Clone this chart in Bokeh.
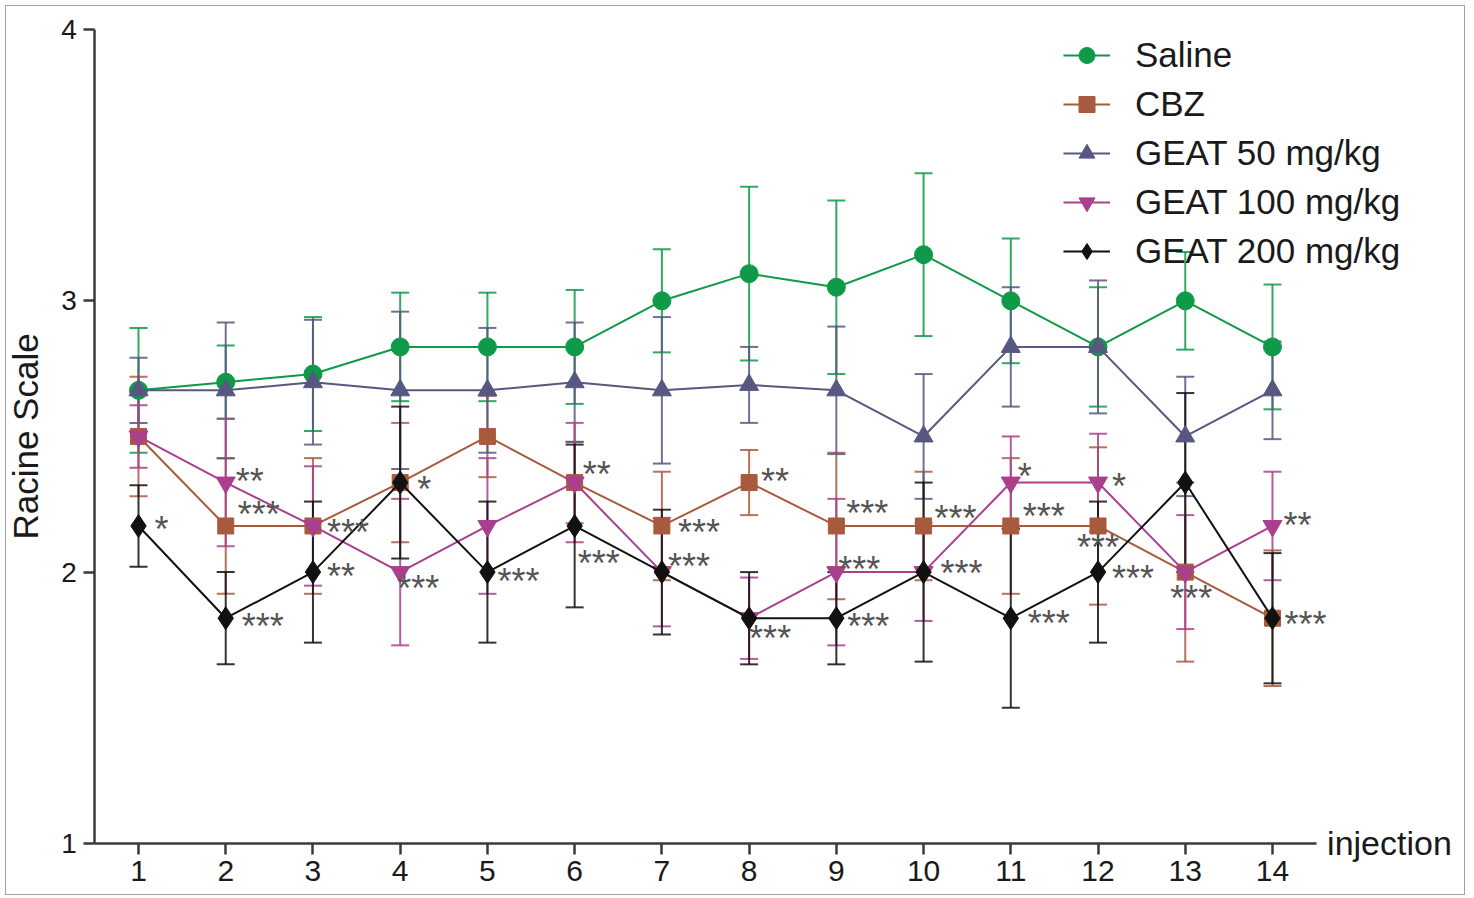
import math
from bokeh.plotting import figure
from bokeh.models import ColumnDataSource, Whisker, TeeHead, Legend, LegendItem, Label, FixedTicker
from bokeh.embed import file_html
from bokeh.resources import INLINE
from bokeh.core.properties import value

# ---------------- data ----------------
injection = [1, 2, 3, 4, 5, 6, 7, 8, 9, 10, 11, 12, 13, 14]

saline = [2.67, 2.70, 2.73, 2.83, 2.83, 2.83, 3.00, 3.10, 3.05, 3.17, 3.00, 2.83, 3.00, 2.83]
saline_sem = [0.23, 0.135, 0.21, 0.20, 0.20, 0.21, 0.19, 0.32, 0.32, 0.30, 0.23, 0.22, 0.18, 0.23]

cbz = [2.50, 2.17, 2.17, 2.33, 2.50, 2.33, 2.17, 2.33, 2.17, 2.17, 2.17, 2.17, 2.00, 1.83]
cbz_sem = [0.22, 0.25, 0.25, 0.22, 0.15, 0.15, 0.20, 0.12, 0.27, 0.20, 0.25, 0.29, 0.33, 0.25]

geat50 = [2.67, 2.67, 2.70, 2.67, 2.67, 2.70, 2.67, 2.69, 2.67, 2.50, 2.83, 2.83, 2.50, 2.67]
geat50_sem = [0.12, 0.25, 0.23, 0.29, 0.23, 0.22, 0.27, 0.14, 0.235, 0.23, 0.22, 0.245, 0.22, 0.18]

geat100 = [2.50, 2.33, 2.17, 2.00, 2.17, 2.33, 2.00, 1.83, 2.00, 2.00, 2.33, 2.33, 2.00, 2.17]
geat100_sem = [0.115, 0.235, 0.22, 0.27, 0.25, 0.22, 0.20, 0.15, 0.27, 0.18, 0.17, 0.18, 0.21, 0.20]

geat200 = [2.17, 1.83, 2.00, 2.33, 2.00, 2.17, 2.00, 1.83, 1.83, 2.00, 1.83, 2.00, 2.33, 1.83]
geat200_sem = [0.15, 0.17, 0.26, 0.28, 0.26, 0.30, 0.23, 0.17, 0.17, 0.33, 0.33, 0.26, 0.33, 0.24]

series_names = ["Saline", "CBZ", "GEAT 50 mg/kg", "GEAT 100 mg/kg", "GEAT 200 mg/kg"]
y_ticks = [1, 2, 3, 4]

# significance marks: injection, series index, text
star_inj = [1, 2, 2, 2, 3, 3, 4, 4, 5, 6, 6, 7, 7, 8, 8, 9, 9, 9, 10, 10, 11, 11, 11, 12, 12, 12, 13, 14, 14]
star_series = [4, 3, 1, 4, 1, 4, 4, 3, 4, 3, 4, 1, 4, 1, 4, 1, 3, 4, 1, 4, 3, 1, 4, 3, 1, 4, 3, 3, 4]
star_text = ["*", "**", "***", "***", "***", "**", "*", "***", "***", "**", "***", "***", "***", "**", "***",
             "***", "***", "***", "***", "***", "*", "***", "***", "*", "***", "***", "***", "**", "***"]

# ---------------- styling / layout ----------------
star_dx = [16, 10, 12, 16, 14, 14, 17, -3, 10, 8, 3, 16, 6, 12, 0, 10, 2, 11, 11, 17, 7, 12, 17, 14, -21, 14, -15, 11, 12]
star_dy = [0, -5, -15, 4, 3, 0, 3, 12, 5, -12, 34, 3, -10, -5, 16, -16, -7, 4, -11, -3, -10, -13, 1, 0, 18, 2, 22, -4, 2]
STAR_SHIFT = 4

colors = ["#0E9A48", "#A85A3E", "#575781", "#AA3F8D", "#111111"]
markers = ["circle", "square", "triangle", "inverted_triangle", "diamond"]
msizes = [18, 16, 19, 19, 23]
FONT = "Liberation Sans"

means = [saline, cbz, geat50, geat100, geat200]
sems = [saline_sem, cbz_sem, geat50_sem, geat100_sem, geat200_sem]

# canvas = plotting frame; axes are drawn at fixed locations inside it
W, H = 1460, 890
PX_PER_UNIT_X = 87.23
PX_PER_UNIT_Y = 271.3
X1_PX = 132          # screen x of injection 1 inside canvas
Y4_PX = 23           # screen y of value 4 inside canvas
x_start = 1 - X1_PX / PX_PER_UNIT_X
x_end = x_start + W / PX_PER_UNIT_X
y_end = 4 + Y4_PX / PX_PER_UNIT_Y
y_start = y_end - H / PX_PER_UNIT_Y

p = figure(width=W, height=H, x_range=(x_start, x_end), y_range=(y_start, y_end),
           output_backend="svg", toolbar_location=None,
           min_border_left=0, min_border_right=0, min_border_top=0, min_border_bottom=0)
p.styles = {"border": "1px solid #a0a0a0", "margin": "5px 0 0 5px"}
p.outline_line_color = None
p.xgrid.visible = False
p.ygrid.visible = False
p.background_fill_color = "white"

for ax in (p.xaxis[0], p.yaxis[0]):
    ax.axis_line_width = 2.5
    ax.axis_line_color = "#3a3a3a"
    ax.major_tick_line_width = 2.5
    ax.major_tick_line_color = "#3a3a3a"
    ax.major_tick_in = 0
    ax.major_tick_out = 11
    ax.minor_tick_line_color = None
    ax.major_label_text_font = FONT
    ax.major_label_text_color = "#1a1a1a"

p.xaxis.bounds = (0.5, 14.5)
p.xaxis.fixed_location = 1
p.yaxis.bounds = (1, 4)
p.yaxis.fixed_location = 0.5
p.xaxis.ticker = FixedTicker(ticks=injection)
p.yaxis.ticker = FixedTicker(ticks=y_ticks)
p.xaxis.major_label_text_font_size = "30px"
p.yaxis.major_label_text_font_size = "28px"
p.xaxis.major_label_standoff = 7
p.yaxis.major_label_standoff = 7

# whiskers
for m, s, c in zip(means, sems, colors):
    src = ColumnDataSource(dict(x=injection,
                                upper=[a + b for a, b in zip(m, s)],
                                lower=[a - b for a, b in zip(m, s)]))
    w = Whisker(source=src, base="x", upper="upper", lower="lower",
                line_color=c, line_width=2, line_alpha=0.85, level="underlay",
                upper_head=TeeHead(size=18, line_color=c, line_width=2, line_alpha=0.85),
                lower_head=TeeHead(size=18, line_color=c, line_width=2, line_alpha=0.85))
    p.add_layout(w)

items = []
for name, m, c, mk, ms in zip(series_names, means, colors, markers, msizes):
    src = ColumnDataSource(dict(x=injection, y=m))
    lr = p.line("x", "y", source=src, line_color=c, line_width=2)
    sr = p.scatter("x", "y", source=src, marker=mk, size=ms, fill_color=c, line_color=c)
    items.append(LegendItem(label=name, renderers=[lr, sr]))

# significance marks
sx = star_inj
sy = [means[si][inj - 1] for inj, si in zip(star_inj, star_series)]
ssrc = ColumnDataSource(dict(x=sx, y=sy, text=star_text, xo=star_dx,
                             yo=[d + STAR_SHIFT for d in star_dy]))
p.text("x", "y", text="text", source=ssrc, x_offset="xo", y_offset="yo",
       text_font=value(FONT), text_font_size="36px", text_color="#555555",
       text_align="left", text_baseline="middle")

legend = Legend(items=items, glyph_width=47, glyph_height=40,
                label_height=40, spacing=9, label_standoff=25, padding=0, margin=0,
                border_line_color=None, background_fill_alpha=0,
                label_text_font=FONT, label_text_font_size="35px", label_text_color="#1a1a1a")
legend_h = 5 * 40 + 4 * 9
LEGEND_LEFT = 1057
LEGEND_TOP_GAP = 29
legend.location = (LEGEND_LEFT, H - LEGEND_TOP_GAP - legend_h)
p.add_layout(legend)

# axis titles
p.add_layout(Label(x=14.5, y=1, x_offset=11, text="injection", text_baseline="middle",
                   text_font=FONT, text_font_size="34px", text_color="#1a1a1a"))
p.add_layout(Label(x=0.5, y=2.5, x_offset=-69, angle=math.pi / 2, text="Racine Scale",
                   text_align="center", text_baseline="middle",
                   text_font=FONT, text_font_size="35px", text_color="#1a1a1a"))

open("out.html", "w").write(file_html(p, INLINE))
